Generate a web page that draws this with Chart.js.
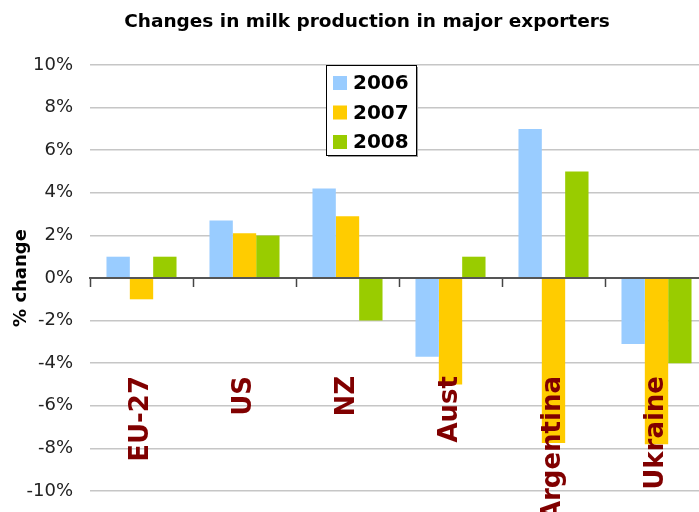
<!DOCTYPE html>
<html>
<head>
<meta charset="utf-8">
<script src="https://cdn.jsdelivr.net/npm/chart.js@4"></script>
<style>
  html, body { margin: 0; padding: 0; background: #fff; }
  #wrap { width: 699px; height: 512px; overflow: hidden; }
</style>
</head>
<body>
<div id="wrap"><canvas id="myChart" width="736" height="512"></canvas></div>
<script>
// --- DATA ---
const NEGARA = ['EU-27', 'US', 'NZ', 'Aust', 'Argentina', 'Ukraine'];
const TAHUN = ['2006', '2007', '2008'];
const DATA_2006 = [1.0, 2.7, 4.2, -3.7, 7.0, -3.1];
const DATA_2007 = [-1.0, 2.1, 2.9, -5.0, -7.75, -7.8];
const DATA_2008 = [1.0, 2.0, -2.0, 1.0, 5.0, -4.0];
const WARNA = ['#99ccff', '#ffcc00', '#99cc00'];

const FONT = "'DejaVu Sans', Verdana, sans-serif";

// legend kotak di dalam area chart
const legendBox = {
    id: 'legendBox',
    afterDraw(chart) {
        const ctx = chart.ctx;
        const a = chart.chartArea;
        const x = a.left + 236, y = a.top, w = 90, h = 90;
        ctx.save();
        ctx.fillStyle = '#9a9a9a';
        ctx.fillRect(x + 2, y + 2, w, h);
        ctx.fillStyle = '#fff';
        ctx.fillRect(x, y, w, h);
        ctx.strokeStyle = '#000';
        ctx.lineWidth = 1;
        ctx.strokeRect(x + 0.5, y + 0.5, w, h);
        ctx.font = 'bold 20px ' + FONT;
        ctx.textBaseline = 'middle';
        chart.data.datasets.forEach((ds, i) => {
            const cy = y + 18 + i * 29.5;
            ctx.fillStyle = ds.backgroundColor;
            ctx.fillRect(x + 7, cy - 7, 14, 14);
            ctx.fillStyle = '#000';
            ctx.fillText(ds.label, x + 27, cy + 1);
        });
        ctx.restore();
    }
};

const ctx = document.getElementById('myChart').getContext('2d');
new Chart(ctx, {
    type: 'bar',
    data: {
        labels: NEGARA,
        datasets: [
            { label: TAHUN[0], data: DATA_2006, backgroundColor: WARNA[0] },
            { label: TAHUN[1], data: DATA_2007, backgroundColor: WARNA[1] },
            { label: TAHUN[2], data: DATA_2008, backgroundColor: WARNA[2] }
        ]
    },
    options: {
        responsive: false,
        animation: false,
        devicePixelRatio: 1,
        layout: { padding: { left: 26, right: 28, top: 0, bottom: 21 } },
        datasets: { bar: { categoryPercentage: 0.68, barPercentage: 1.0 } },
        plugins: {
            legend: { display: false },
            tooltip: { enabled: false },
            title: {
                display: true,
                text: 'Changes in milk production in major exporters',
                color: '#000',
                font: { family: FONT, size: 18.5, weight: 'bold' },
                padding: { top: 11, bottom: 31.8 }
            }
        },
        scales: {
            x: {
                position: { y: 0 },
                afterFit: s => { s.paddingLeft = 0; s.paddingRight = 0; s.paddingTop = 0; s.paddingBottom = 0; },
                grid: { drawOnChartArea: false, offset: true, tickLength: 8, tickColor: '#444', tickWidth: 1.5, z: 1 },
                border: { display: true, color: '#555', width: 2, z: 1 },
                ticks: {
                    z: 1,
                    autoSkip: false, minRotation: 90, maxRotation: 90, padding: 90,
                    color: '#800000',
                    font: { family: FONT, size: 26, weight: 'bold' }
                }
            },
            y: {
                min: -10, max: 10,
                afterFit: s => { s.width = 64; s.paddingTop = 0; s.paddingBottom = 0; },
                grid: { color: '#c6c6c6', lineWidth: 1.5, drawTicks: false },
                border: { display: false },
                ticks: {
                    stepSize: 2, padding: 17, color: '#222',
                    font: { family: FONT, size: 18 },
                    callback: v => v + '%'
                },
                title: {
                    display: true, text: '% change', color: '#000',
                    font: { family: FONT, size: 18, weight: 'bold' },
                    padding: { top: -15, bottom: 0 }
                }
            }
        }
    },
    plugins: [legendBox]
});
</script>
</body>
</html>
